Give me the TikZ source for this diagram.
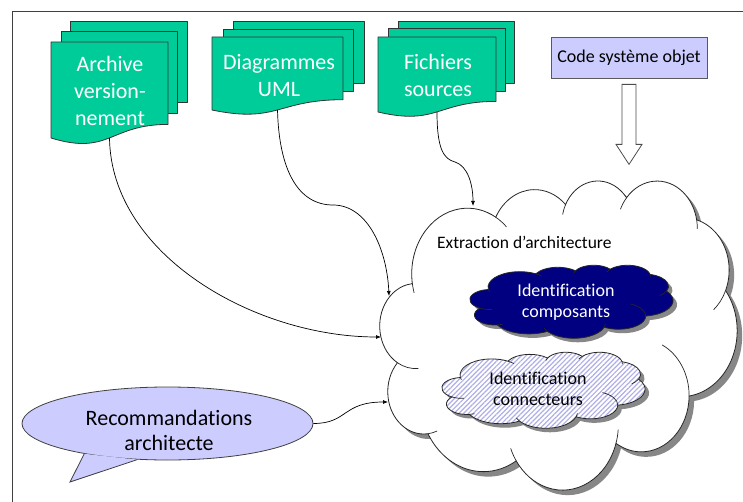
\documentclass[tikz,border=0pt]{standalone}
\usepackage{fontspec}
\setmainfont{Carlito}[Ligatures={TeX,NoCommon}]
\usetikzlibrary{arrows.meta,patterns.meta,calc,shapes.geometric}
\definecolor{docgreen}{HTML}{00CC99}
\definecolor{lav}{HTML}{CCCCFF}
\definecolor{navyc}{HTML}{000080}
\definecolor{stripec}{RGB}{175,175,232}
\definecolor{shadowc}{RGB}{135,135,135}
\definecolor{edgec}{HTML}{333333}

\def\pptcloudpath{(39,143.7)
 arc[start angle=-187.75,end angle=-59.64,x radius=67.53,y radius=91.90]
 arc[start angle=-152.02,end angle=-45.45,x radius=53.33,y radius=72.67]
 arc[start angle=-153.49,end angle=-37.33,x radius=43.65,y radius=59.45]
 arc[start angle=-139.73,end angle=-10.22,x radius=48.57,y radius=65.95]
 arc[start angle=-74.77,end angle=23.22,x radius=53.33,y radius=72.73]
 arc[start angle=-37.53,end angle=81.86,x radius=67.75,y radius=92.20]
 arc[start angle=0.46,end angle=121.98,x radius=57.85,y radius=78.67]
 arc[start angle=16.84,end angle=146.22,x radius=67.52,y radius=92.15]
 arc[start angle=58.98,end angle=150.20,x radius=77.20,y radius=105.43]
 arc[start angle=83.31,end angle=223.12,x radius=43.60,y radius=59.18]
 arc[start angle=120.36,end angle=264.11,x radius=43.45,y radius=59.45] -- cycle}
\def\pptcloudinner{
 (43.10,204.20) ++(85.54:43.45 and 59.45) arc[start angle=85.54,end angle=120.36,x radius=43.45,y radius=59.45]
 (52.96,295.95) ++(68.23:43.60 and 59.18) arc[start angle=68.23,end angle=83.31,x radius=43.60,y radius=59.18]
 (220.93,341.43) ++(146.22:67.52 and 92.15) arc[start angle=146.22,end angle=158.47,x radius=67.52,y radius=92.15]
 (220.93,341.43) ++(4.74:67.52 and 92.15) arc[start angle=4.74,end angle=16.84,x radius=67.52,y radius=92.15]
 (316.19,301.39) ++(-64.03:57.85 and 78.67) arc[start angle=-64.03,end angle=0.46,x radius=57.85,y radius=78.67]
 (369.18,125.91) ++(23.22:53.33 and 72.73) arc[start angle=23.22,end angle=49.65,x radius=53.33,y radius=72.73]
 (335.39,67.43) ++(-10.22:48.57 and 65.95) arc[start angle=-10.22,end angle=0.82,x radius=48.57,y radius=65.95]
 (335.39,67.43) ++(-156.30:48.57 and 65.95) arc[start angle=-156.30,end angle=-139.73,x radius=48.57,y radius=65.95]
 (263.63,60.85) ++(-167.72:43.65 and 59.45) arc[start angle=-167.72,end angle=-153.49,x radius=43.65,y radius=59.45]
 (105.92,131.31) ++(-59.64:67.53 and 91.90) arc[start angle=-59.64,end angle=-45.74,x radius=67.53,y radius=91.90]
 (105.92,131.31) ++(163.19:67.53 and 91.90) arc[start angle=163.19,end angle=172.25,x radius=67.53,y radius=91.90]}

% #1 left, #2 top, #3 x unit, #4 y unit, #5 shadow offset, #6 style
\newcommand\pcloud[6]{%
\begin{scope}[shift={(#1,#2)},x=#3pt,y=-#4pt]
 \fill[shadowc,xshift=#5pt,yshift=-#5pt] \pptcloudpath;
 \path[#6] \pptcloudpath;
 \draw[black!85,line width=0.7pt] \pptcloudinner;
\end{scope}}

\tikzset{
 docpage/.style={fill=docgreen, draw=edgec, line width=0.8pt, line join=round},
 doctext/.style={text=white, align=center, inner sep=0pt, font=\fontsize{22}{27}\selectfont},
 conn/.style={draw=black, line width=0.7pt, -{Latex[length=5pt,width=4pt]}},
 cloudline/.style={draw=black!85, line width=0.8pt},
 lbl/.style={align=center, inner sep=0pt},
}

\begin{document}
\begin{tikzpicture}[x=1pt,y=-1pt]
\useasboundingbox (0,0) rectangle (743,502);
\fill[white] (0,0) rectangle (743,502);

% frame
\draw[black!75, line width=0.8pt] (743,11) -- (12,11) -- (12,502);

% Archive stack
\path[docpage] (70,21) rectangle (187,102);
\path[docpage] (61,31) rectangle (177,113);
\path[docpage] (51,42) -- (168,42) -- (168,124.4) .. controls (109.5,124.4) and (109.5,155.9) .. (51,138) -- cycle;
\node[doctext] (arch) at (110,91) {Archive\\version-\\nement};
\coordinate (archb) at (109.5,138);

% UML stack
\path[docpage] (233,21) rectangle (364,83);
\path[docpage] (223,29) rectangle (353,91);
\path[docpage] (212,37) -- (343,37) -- (343,99.7) .. controls (277.5,99.7) and (277.5,123.6) .. (212,110) -- cycle;
\node[doctext] (uml) at (279,76) {Diagrammes\\UML};
\coordinate (umlb) at (277.5,110);

% Sources stack
\path[docpage] (398,21) rectangle (514,83);
\path[docpage] (388,28) rectangle (505,91);
\path[docpage] (378,37) -- (496,37) -- (496,101.4) .. controls (437,101.4) and (437,125.9) .. (378,112) -- cycle;
\node[doctext] (src) at (438,75) {Fichiers\\sources};
\coordinate (srcb) at (437,112);

% Code box
\node[draw=black!65, line width=0.8pt, fill=lav, minimum width=156, minimum height=41, inner sep=0pt,
      font=\fontsize{18}{22}\selectfont] (code) at (629,57.5) {Code système objet};

% block arrow
\draw[fill=white, draw=black!70, line width=0.8pt, line join=miter]
  ($(code.south)+(-7,6)$) -- ++(14,0) -- ++(0,60) -- ++(6,0) -- ++(-13,20) -- ++(-13,-20) -- ++(6,0) -- cycle;

% big cloud
\pcloud{380}{180}{0.8264}{0.7153}{5}{fill=white, cloudline}
\node[anchor=west, inner sep=0pt, font=\fontsize{17.5}{21}\selectfont] (extr) at (437,242) {Extraction d’architecture};

% inner clouds
\pcloud{470}{265}{0.4699}{0.1690}{4}{fill=navyc, cloudline}
\node[lbl, text=white, font=\fontsize{18}{21}\selectfont] (comp) at (566,302) {Identification\\composants};

\pcloud{442}{352}{0.4699}{0.1759}{4}{preaction={fill=white}, pattern={Lines[angle=45,distance=3.4pt,line width=1.2pt]}, pattern color=stripec, cloudline}
\node[lbl, font=\fontsize{18}{21}\selectfont] (connx) at (538,389) {Identification\\connecteurs};

% callout
\node[ellipse, draw=black!75, line width=0.8pt, fill=lav, minimum width=291, minimum height=73, inner sep=0pt] (rec) at (167.5,423.5) {};
\coordinate (rtip) at (70,482);
\fill[lav] (rec.200) -- (rtip) -- (rec.230) -- cycle;
\draw[black!75, line width=0.8pt, line join=miter] (rec.200) -- (rtip) -- (rec.230);
\node[lbl, font=\fontsize{22}{25}\selectfont] (rectxt) at (169,430) {Recommandations\\architecte};

% connectors
\coordinate (in1) at (381,337);
\coordinate (in2) at (389,296);
\coordinate (in3) at (473,206);
\coordinate (in4) at (388,402);
\draw[conn] (archb) .. controls (111,255) and (255,337) .. (in1);
\draw[conn] (umlb) .. controls (279,170) and (298,205) .. (333,205) .. controls (368,205) and (387,250) .. (in2);
\draw[conn] (srcb) .. controls (437,150) and (444,159) .. (455,162) .. controls (468,166) and (473,185) .. (in3);
\draw[conn] (rec.east) .. controls (348,423.5) and (342,402) .. (in4);
\end{tikzpicture}
\end{document}
